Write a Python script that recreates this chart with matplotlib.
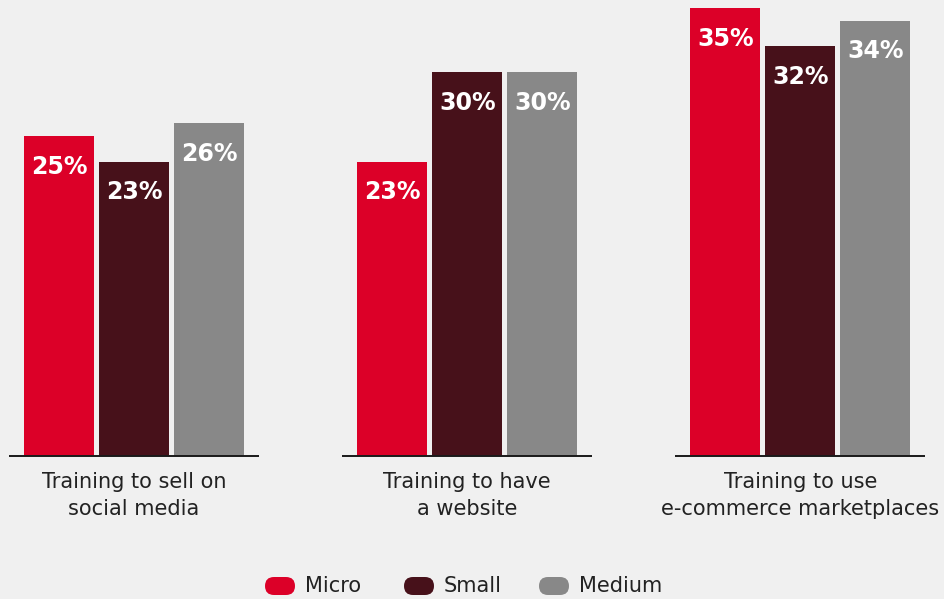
import numpy as np
import matplotlib.pyplot as plt
from matplotlib.patches import FancyBboxPatch

categories = ["Training to sell on\nsocial media",
              "Training to have\na website",
              "Training to use\ne-commerce marketplaces"]
series = ["Micro", "Small", "Medium"]
micro = [25, 23, 35]
small = [23, 30, 32]
medium = [26, 30, 34]
colors = ["#DC0028", "#47111A", "#888888"]

plt.rcParams['font.family'] = ['DejaVu Sans']

bg = "#F0F0F0"
fig = plt.figure(figsize=(9.45, 5.99), dpi=100, facecolor=bg)

# axes span whole width; y=0 sits on the baseline
ax = fig.add_axes([0, 143 / 599, 1, 456 / 599])
ax.set_facecolor(bg)
ax.set_xlim(-134 / 75, (945 - 134) / 75)
ax.set_ylim(0, 456 / 12.8)
ax.axis("off")

group_gap = 4.443
centers = np.arange(len(categories)) * group_gap
width = 70 / 75

for j, (name, vals, col) in enumerate(zip(series, [micro, small, medium], colors)):
    xs = centers + (j - 1)
    bars = ax.bar(xs, vals, width=width, color=col)
    for x, v in zip(xs, vals):
        ax.annotate(f"{v}%", (x, v), xytext=(0, -27), textcoords="offset points",
                    ha="center", va="baseline", color="white", fontsize=17,
                    fontweight="bold")

# separate baseline under each group
for c, label in zip(centers, categories):
    ax.plot([c - 1.667, c + 1.667], [0, 0], color="#1a1a1a", lw=1.4,
            solid_capstyle="butt", clip_on=False)
    ax.text(c, -16 / 12.8, label, ha="center", va="top", fontsize=15,
            color="#222222", linespacing=1.42, clip_on=False)

# legend row with pill markers (sizes in inches)
pill_x = [265, 404, 539]
for px, name, col in zip(pill_x, series, colors):
    pill = FancyBboxPatch((px / 100, (599 - 595) / 100), 0.30, 0.18,
                          boxstyle="round,pad=0,rounding_size=0.09",
                          transform=fig.dpi_scale_trans, facecolor=col,
                          edgecolor="none")
    fig.patches.append(pill)
    fig.text((px + 40) / 945, (599 - 586) / 599, name, ha="left", va="center",
             fontsize=15, color="#222222")

fig.savefig("out.png", dpi=100, facecolor=bg)
